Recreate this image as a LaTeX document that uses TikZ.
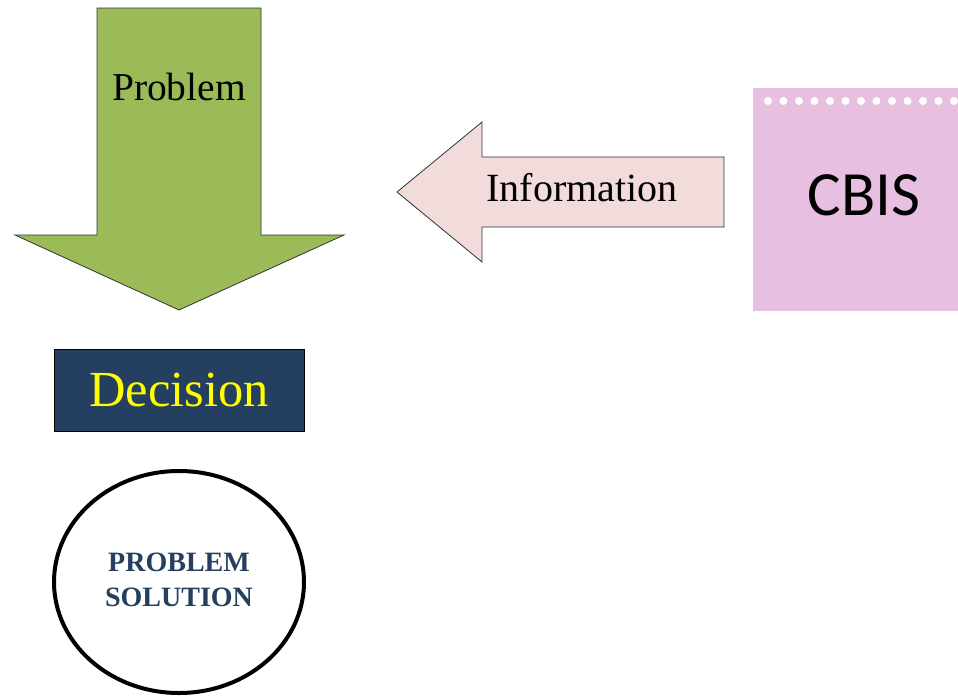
\documentclass[tikz,border=0pt]{standalone}
\usepackage{fontspec}
\setmainfont{Liberation Serif}
\newfontfamily\carlito{Carlito}
\definecolor{probgreen}{RGB}{155,187,89}
\definecolor{infopink}{RGB}{242,220,219}
\definecolor{cbispink}{RGB}{230,191,225}
\definecolor{navy}{RGB}{37,63,96}
\definecolor{decyellow}{RGB}{255,255,0}
\tikzset{
  shapeline/.style={draw=black!80, line width=0.8pt},
  lbl/.style={inner sep=0pt, anchor=center},
}
\begin{document}
\begin{tikzpicture}[x=1pt,y=-1pt]
\useasboundingbox (0,0) rectangle (958,696);
% Problem arrow
\filldraw[shapeline, fill=probgreen]
  (97,8) -- (261,8) -- (261,235) -- (344,235) -- (179,310) -- (15,235) -- (97,235) -- cycle;
\node[lbl, font=\fontsize{39.5}{44}\selectfont] (problem) at (179,87) {Problem};
% Information arrow
\filldraw[shapeline, fill=infopink]
  (724,157) -- (482,157) -- (482,122) -- (397,192) -- (482,262) -- (482,227) -- (724,227) -- cycle;
\node[lbl, font=\fontsize{40}{44}\selectfont] (info) at (582,188) {Information};
% CBIS box
\fill[cbispink] (753,88) rectangle (958,311);
\foreach \i in {0,...,12} {
  \fill[white] (768+15.5*\i,101) circle (4);
}
\node[lbl, font=\carlito\fontsize{63}{66}\selectfont] (cbis) at (864,195) {CBIS};
% Decision box
\node[draw=black, line width=0.8pt, fill=navy, minimum width=250pt, minimum height=82pt,
      inner sep=0pt, text=decyellow, font=\fontsize{50.5}{54}\selectfont] (decision) at (179,390) {Decision};
% Problem solution ellipse
\draw[line width=4pt] (179,582) ellipse [x radius=125, y radius=111];
\node[lbl, align=center, text=navy, font=\bfseries\fontsize{28}{35}\selectfont] (solution) at (179,580) {PROBLEM\\SOLUTION};
\end{tikzpicture}
\end{document}
